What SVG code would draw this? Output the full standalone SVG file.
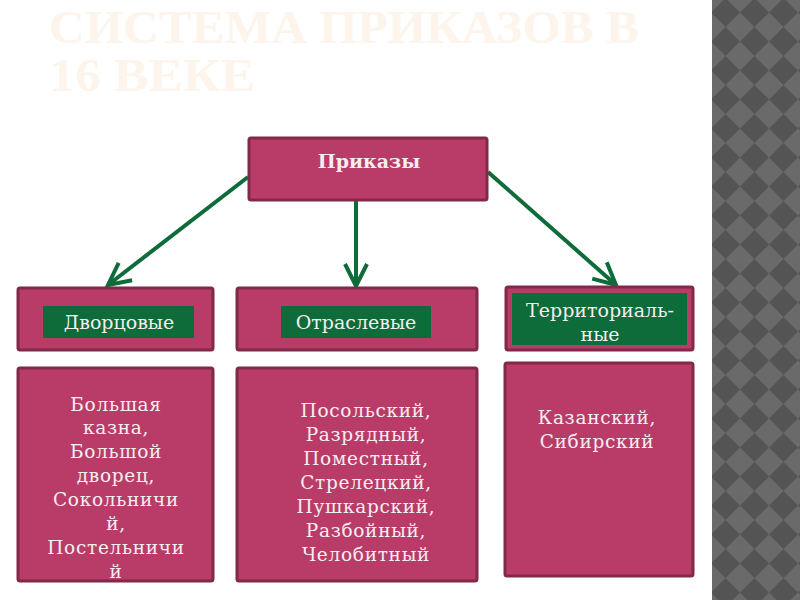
<svg xmlns="http://www.w3.org/2000/svg" width="800" height="600" viewBox="0 0 800 600">
<style>
.box{fill:#b83c67;stroke:#80294a;stroke-width:3}
.green{fill:#0e6b3a}
.lbl{font-family:"DejaVu Serif","Liberation Serif",serif;font-size:19px;fill:#f4eef0;text-anchor:middle}
.list{font-family:"DejaVu Serif","Liberation Serif",serif;font-size:18.5px;fill:#f6eef2;text-anchor:middle;letter-spacing:0.7px}
.title{font-family:"Liberation Serif",serif;font-weight:bold;font-size:46px;fill:#fdf4eb}
.conn{stroke:#0e6b3a;stroke-width:4;fill:none}
</style>
<defs>
<pattern id="diam" width="29" height="29" patternUnits="userSpaceOnUse" x="711" y="-2">
<rect width="29" height="29" fill="#6a6a6a"/>
<path d="M14.5,0 L29,14.5 L14.5,29 L0,14.5 Z" fill="#545454"/>
</pattern>
<marker id="vee" viewBox="0 -13 26 26" refX="22" refY="0" markerWidth="26" markerHeight="26" markerUnits="userSpaceOnUse" orient="auto" overflow="visible">
<path d="M0,-11 L22,0 L0,11" fill="none" stroke="#0e6b3a" stroke-width="4"/>
</marker>
</defs>
<rect width="800" height="600" fill="#ffffff"/>
<rect x="712" y="0" width="88" height="600" fill="url(#diam)"/>
<g id="title">
<text class="title" x="49" y="43" textLength="590" lengthAdjust="spacingAndGlyphs">СИСТЕМА ПРИКАЗОВ В</text>
<text class="title" x="49" y="91" textLength="206" lengthAdjust="spacingAndGlyphs">16 ВЕКЕ</text>
</g>
<g id="connectors">
<line class="conn" x1="248" y1="177" x2="108" y2="285" marker-end="url(#vee)"/>
<line class="conn" x1="356" y1="201" x2="356" y2="286" marker-end="url(#vee)"/>
<line class="conn" x1="488" y1="172" x2="616" y2="285" marker-end="url(#vee)"/>
</g>
<g id="prikazy">
<rect class="box" x="249" y="138" width="238" height="62" rx="2"/>
<text class="lbl" x="369" y="168" style="font-weight:bold">Приказы</text>
</g>
<g id="dvortsovye">
<rect class="box" x="18" y="288" width="195" height="62" rx="2"/>
<rect class="green" x="43" y="306" width="151" height="32"/>
<text class="lbl" x="119" y="329">Дворцовые</text>
</g>
<g id="otraslevye">
<rect class="box" x="237" y="288" width="240" height="62" rx="2"/>
<rect class="green" x="281" y="306" width="150" height="32"/>
<text class="lbl" x="356" y="329">Отраслевые</text>
</g>
<g id="territorialnye">
<rect class="box" x="506" y="287" width="187" height="63" rx="2"/>
<rect class="green" x="512" y="293" width="175" height="52"/>
<text class="lbl" x="600" y="317">Территориаль-</text>
<text class="lbl" x="600" y="341">ные</text>
</g>
<g id="dvortsovye-list">
<rect class="box" x="18" y="368" width="195" height="213" rx="2"/>
<text class="list" x="116"><tspan x="116" y="411">Большая</tspan><tspan x="116" y="434">казна,</tspan><tspan x="116" y="458">Большой</tspan><tspan x="116" y="482">дворец,</tspan><tspan x="116" y="506">Сокольничи</tspan><tspan x="116" y="530">й,</tspan><tspan x="116" y="554">Постельничи</tspan><tspan x="116" y="578">й</tspan></text>
</g>
<g id="otraslevye-list">
<rect class="box" x="237" y="368" width="240" height="213" rx="2"/>
<text class="list" x="366"><tspan x="366" y="417">Посольский,</tspan><tspan x="366" y="441">Разрядный,</tspan><tspan x="366" y="465">Поместный,</tspan><tspan x="366" y="489">Стрелецкий,</tspan><tspan x="366" y="513">Пушкарский,</tspan><tspan x="366" y="537">Разбойный,</tspan><tspan x="366" y="561">Челобитный</tspan></text>
</g>
<g id="territorialnye-list">
<rect class="box" x="505" y="363" width="188" height="213" rx="2"/>
<text class="list" x="597"><tspan x="597" y="424">Казанский,</tspan><tspan x="597" y="448">Сибирский</tspan></text>
</g>
</svg>
